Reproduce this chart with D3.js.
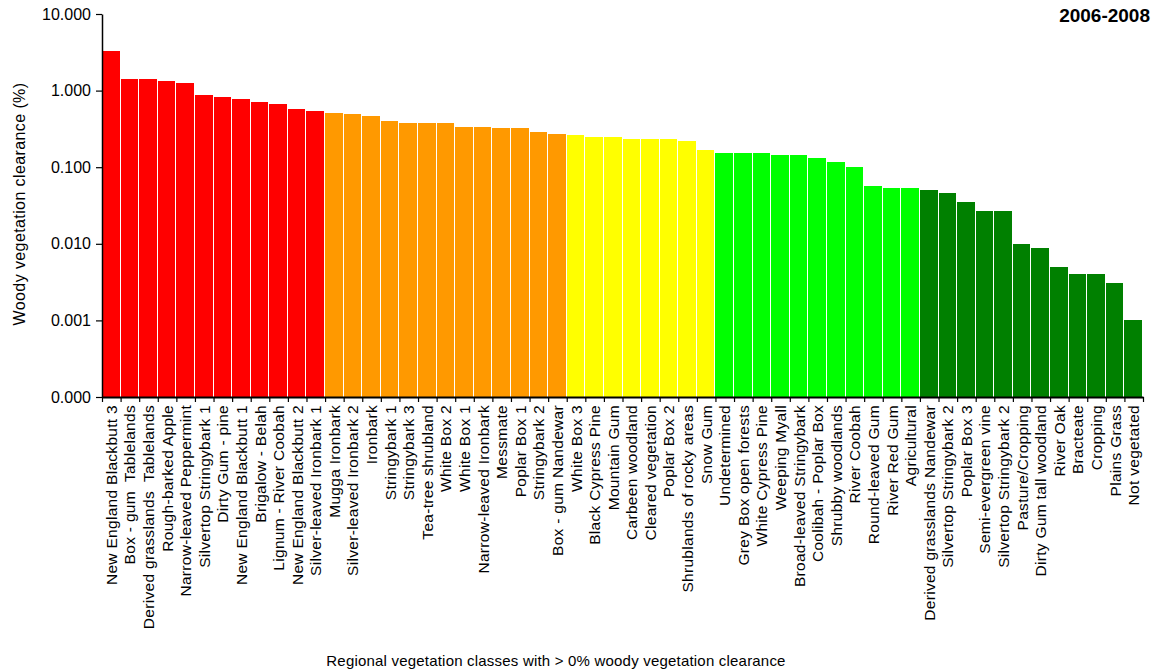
<!DOCTYPE html>
<html>
<head>
<meta charset="utf-8">
<script src="https://cdn.jsdelivr.net/npm/d3@7"></script>
<style>
  body { margin: 0; background: #fff; }
  text { font-family: 'Liberation Sans', Arial, sans-serif; }
</style>
</head>
<body>
<div id="chart"></div>
<script>
const classes = [
  'New England Blackbutt 3', 'Box - gum  Tablelands', 'Derived grasslands  Tablelands', 'Rough-barked Apple',
  'Narrow-leaved Peppermint', 'Silvertop Stringybark 1', 'Dirty Gum - pine', 'New England Blackbutt 1',
  'Brigalow - Belah', 'Lignum - River Coobah', 'New England Blackbutt 2', 'Silver-leaved Ironbark 1',
  'Mugga Ironbark', 'Silver-leaved Ironbark 2', 'Ironbark', 'Stringybark 1', 'Stringybark 3',
  'Tea-tree shrubland', 'White Box 2', 'White Box 1', 'Narrow-leaved Ironbark', 'Messmate',
  'Poplar Box 1', 'Stringybark 2', 'Box - gum Nandewar', 'White Box 3', 'Black Cypress Pine',
  'Mountain Gum', 'Carbeen woodland', 'Cleared vegetation', 'Poplar Box 2', 'Shrublands of rocky areas',
  'Snow Gum', 'Undetermined', 'Grey Box open forests', 'White Cypress Pine', 'Weeping Myall',
  'Broad-leaved Stringybark', 'Coolibah - Poplar Box', 'Shrubby woodlands', 'River Coobah',
  'Round-leaved Gum', 'River Red Gum', 'Agricultural', 'Derived grasslands Nandewar',
  'Silvertop Stringybark 2', 'Poplar Box 3', 'Semi-evergreen vine', 'Silvertop Stringybark 2',
  'Pasture/Cropping', 'Dirty Gum tall woodland', 'River Oak', 'Bracteate', 'Cropping',
  'Plains Grass', 'Not vegetated'
]

const clearance = [
  3.29, 1.42, 1.42, 1.33, 1.26, 0.877, 0.824, 0.776, 0.709, 0.668, 0.575, 0.542,
  0.511, 0.496, 0.466, 0.401, 0.378, 0.378, 0.378, 0.335, 0.335, 0.325, 0.325, 0.288, 0.271,
  0.263, 0.248, 0.248, 0.233, 0.233, 0.233, 0.22, 0.168,
  0.153, 0.153, 0.153, 0.144, 0.144, 0.132, 0.117, 0.101, 0.0569, 0.0536, 0.0536,
  0.0504, 0.046, 0.0351, 0.0268, 0.0268, 0.00993, 0.0088, 0.00498, 0.00403, 0.00403, 0.00308, 0.00101
]

// colour group of each bar: 0 red, 1 orange, 2 yellow, 3 light green, 4 dark green
const groupSizes = [12, 13, 8, 11, 12]
const groupColours = ['#ff0000', '#ff9900', '#ffff00', '#00ff00', '#008000']

const yTicks = [10, 1, 0.1, 0.01, 0.001, 0.0001]

const width = 1162
const height = 672
const margin = { top: 14, right: 19, bottom: 275, left: 102 }
const plotW = width - margin.left - margin.right
const plotH = height - margin.top - margin.bottom

const groupOf = []
groupSizes.forEach((n, g) => { for (let k = 0; k < n; k++) groupOf.push(g) })

const data = classes.map((c, i) => ({ i, name: c, value: clearance[i], group: groupOf[i] }))

const svg = d3.select('#chart')
  .append('svg')
  .attr('width', width)
  .attr('height', height)

const g = svg.append('g')
  .attr('transform', `translate(${margin.left},${margin.top})`)

const x = d3.scaleBand()
  .domain(data.map(d => d.i))
  .range([0, plotW])
  .padding(0)

const xEdges = d3.scaleLinear().domain([0, data.length]).range([0, plotW])

const y = d3.scaleLog()
  .domain([0.0001, 10])
  .range([plotH, 0])

// bars fill the band, with a 1px white gap on the right
const left = d => Math.round(x(d.i))
const right = d => Math.round(x(d.i) + x.bandwidth())

g.selectAll('.bar')
  .data(data)
  .enter()
  .append('rect')
  .attr('class', 'bar')
  .attr('x', d => left(d))
  .attr('width', d => right(d) - left(d) - 1)
  .attr('y', d => y(d.value))
  .attr('height', d => plotH - y(d.value))
  .attr('fill', d => groupColours[d.group])
  .attr('shape-rendering', 'crispEdges')

// y axis
const yAxis = g.append('g')
  .call(d3.axisLeft(y).tickValues(yTicks).tickFormat(d3.format('.3f')).tickSize(6).tickSizeOuter(0))
yAxis.select('.domain').attr('stroke', '#000').attr('stroke-width', 1.5)
yAxis.selectAll('.tick line').attr('stroke', '#000').attr('stroke-width', 1.2)
yAxis.selectAll('.tick text')
  .attr('x', -11)
  .attr('font-size', 16)
  .attr('font-family', "'Liberation Sans', Arial, sans-serif")
  .attr('fill', '#000')

// x axis ticks at bar edges
const xAxis = g.append('g')
  .attr('transform', `translate(0,${plotH})`)
  .call(d3.axisBottom(xEdges).tickValues(d3.range(data.length + 1)).tickFormat('').tickSize(5).tickSizeOuter(0))
xAxis.select('.domain').attr('stroke', '#000').attr('stroke-width', 2)
xAxis.selectAll('.tick line').attr('stroke', '#000').attr('stroke-width', 1.2)

// category labels
g.append('g')
  .attr('transform', `translate(0,${plotH})`)
  .selectAll('.cat')
  .data(data)
  .enter()
  .append('text')
  .attr('class', 'cat')
  .attr('transform', d => `translate(${x(d.i) + x.bandwidth() / 2 + 5.5},8) rotate(-90)`)
  .attr('text-anchor', 'end')
  .attr('font-size', 15.5)
  .attr('letter-spacing', 0.3)
  .attr('fill', '#000')
  .style('white-space', 'pre')
  .text(d => d.name)

// axis titles
svg.append('text')
  .attr('transform', `translate(25,${margin.top + 190}) rotate(-90)`)
  .attr('text-anchor', 'middle')
  .attr('font-size', 16)
  .attr('letter-spacing', 0.4)
  .attr('fill', '#000')
  .text('Woody vegetation clearance (%)')

svg.append('text')
  .attr('x', 556)
  .attr('y', 666)
  .attr('text-anchor', 'middle')
  .attr('font-size', 15)
  .attr('letter-spacing', 0.2)
  .attr('fill', '#000')
  .text('Regional vegetation classes with > 0% woody vegetation clearance')

svg.append('text')
  .attr('x', 1150)
  .attr('y', 22)
  .attr('text-anchor', 'end')
  .attr('font-size', 19)
  .attr('font-weight', 'bold')
  .attr('fill', '#000')
  .text('2006-2008')
</script>
</body>
</html>
